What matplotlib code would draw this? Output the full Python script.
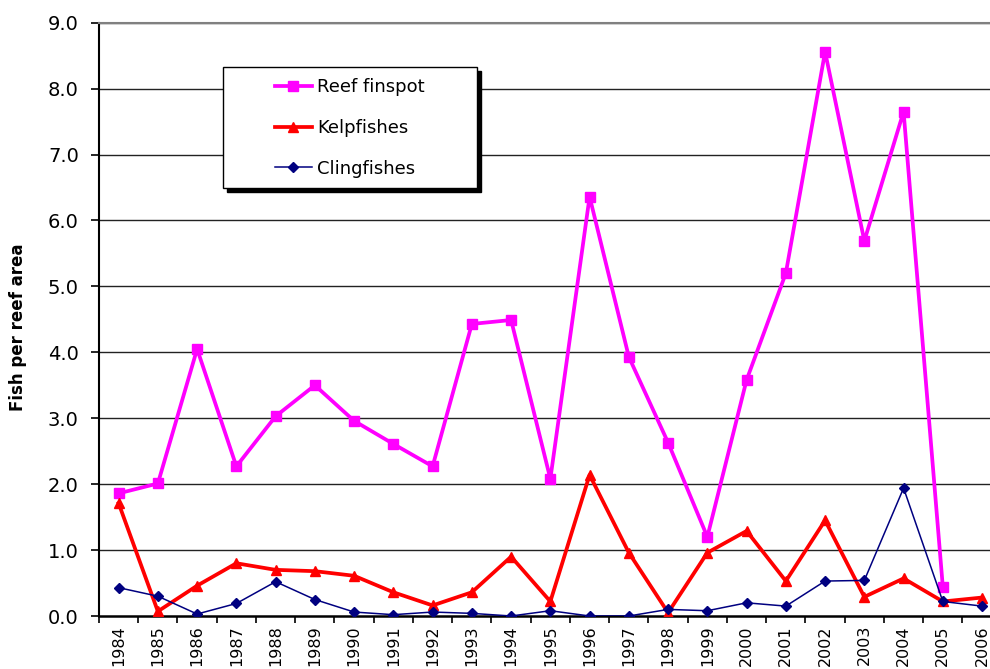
import numpy as np
import matplotlib
matplotlib.use("Agg")
import matplotlib.pyplot as plt
from matplotlib.patches import Rectangle

plt.rcParams['font.family'] = ['DejaVu Sans']

years = [str(y) for y in range(1984, 2007)]

reef_finspot = [1.86, 2.01, 4.05, 2.27, 3.03, 3.50, 2.96, 2.61, 2.27, 4.43, 4.49,
                2.08, 6.36, 3.93, 2.63, 1.20, 3.58, 5.20, 8.56, 5.69, 7.65, 0.44,
                np.nan]
kelpfishes = [1.71, 0.07, 0.46, 0.80, 0.70, 0.68, 0.61, 0.36, 0.16, 0.36, 0.90,
              0.22, 2.14, 0.96, 0.05, 0.96, 1.29, 0.53, 1.45, 0.29, 0.57, 0.22,
              0.28]
clingfishes = [0.43, 0.30, 0.03, 0.19, 0.52, 0.25, 0.06, 0.02, 0.06, 0.04, 0.00,
               0.08, 0.00, 0.00, 0.10, 0.08, 0.20, 0.15, 0.53, 0.54, 1.94, 0.22,
               0.15]

y_ticks = [0, 1, 2, 3, 4, 5, 6, 7, 8, 9]
y_label = "Fish per reef area"

W, H = 990, 669
fig = plt.figure(figsize=(W / 100, H / 100), dpi=100)

# plot area (right edge runs slightly past the canvas)
left_px, right_px, top_px, bottom_px = 99, 1001.7, 22.7, 616
ax = fig.add_axes([left_px / W, (H - bottom_px) / H,
                   (right_px - left_px) / W, (bottom_px - top_px) / H])

x = np.arange(len(years))

ax.plot(x, reef_finspot, color='#FF00FF', lw=2.7, marker='s', ms=6.5,
        mec='#FF00FF', mfc='#FF00FF', label='Reef finspot', zorder=3)
ax.plot(x, kelpfishes, color='#FF0000', lw=2.7, marker='^', ms=7.5,
        mec='#FF0000', mfc='#FF0000', label='Kelpfishes', zorder=4)
ax.plot(x, clingfishes, color='#000080', lw=1.1, marker='D', ms=5,
        mec='#000080', mfc='#000080', label='Clingfishes', zorder=5)

ax.set_xlim(-0.5, len(years) - 0.5)
ax.set_ylim(0, 9)

# horizontal gridlines
for v in y_ticks[1:]:
    ax.axhline(v, color='#222222', lw=1.0, zorder=1)

ax.set_yticks(y_ticks)
ax.set_yticklabels([f"{v:.1f}" for v in y_ticks])
ax.tick_params(axis='y', direction='out', length=6, width=1.2, pad=8.5,
               labelsize=14, colors='black')

# category boundaries carry the tick marks, centres carry the labels
ax.set_xticks(np.arange(-0.5, len(years)), labels=[''] * (len(years) + 1))
ax.set_xticks(x, labels=years, minor=True)
ax.tick_params(axis='x', which='major', direction='out', length=5, width=1.2)
ax.tick_params(axis='x', which='minor', length=0, pad=6.5, labelsize=11.5,
               labelrotation=90)

for s in ['right']:
    ax.spines[s].set_visible(False)
ax.spines['top'].set_color('#808080')
ax.spines['top'].set_linewidth(1.5)
ax.spines['left'].set_linewidth(1.5)
ax.spines['bottom'].set_linewidth(1.8)

fig.text(18 / W, (H - 327) / H, y_label, rotation=90, fontsize=12,
         fontweight='bold', ha='center', va='center')

# legend box with solid shadow
bx0, bx1, by0, by1 = 223.3, 476.7, 66.7, 188.3
fig.patches.append(Rectangle(((bx0 + 4) / W, (H - by1 - 4) / H),
                             (bx1 - bx0) / W, (by1 - by0) / H,
                             transform=fig.transFigure, facecolor='black',
                             edgecolor='black', zorder=6))
fig.patches.append(Rectangle((bx0 / W, (H - by1) / H),
                             (bx1 - bx0) / W, (by1 - by0) / H,
                             transform=fig.transFigure, facecolor='white',
                             edgecolor='black', lw=1.0, zorder=7))
leg = fig.legend(loc='center', bbox_to_anchor=(350 / W, (H - 128) / H),
                 frameon=False, fontsize=13, handlelength=2.0,
                 handletextpad=0.3, labelspacing=1.25)
leg.set_zorder(8)

fig.savefig('out.png', dpi=100)
